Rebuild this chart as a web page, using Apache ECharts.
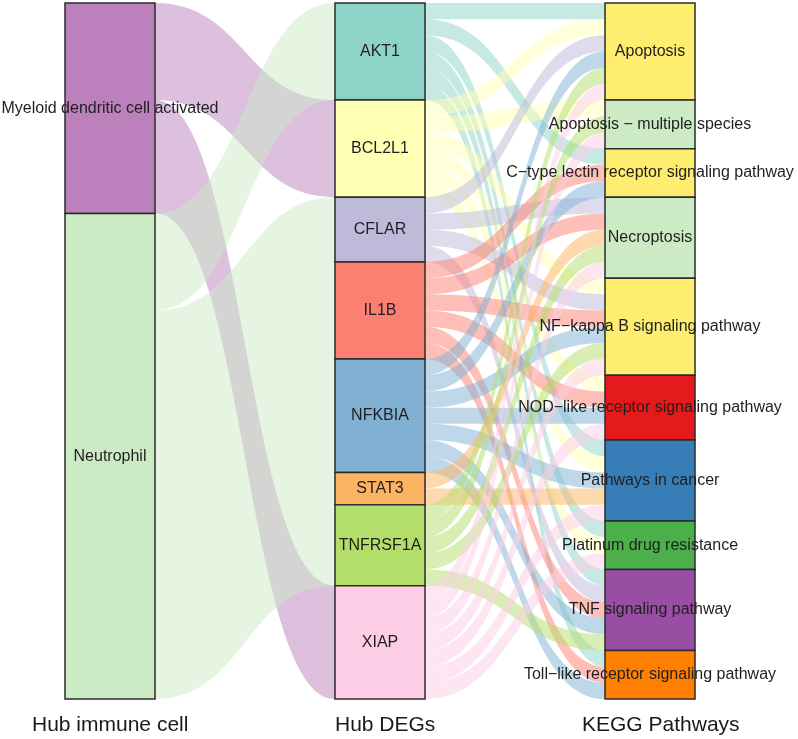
<!DOCTYPE html>
<html>
<head>
<meta charset="utf-8">
<script src="https://cdn.jsdelivr.net/npm/echarts@6/dist/echarts.min.js"></script>
<style>
  html, body { margin: 0; padding: 0; background: #ffffff; }
  #chart { width: 798px; height: 739px; }
</style>
</head>
<body>
<div id="chart"></div>
<script>
// ---- data ----
const axisTitles = ['Hub immune cell', 'Hub DEGs', 'KEGG Pathways'];

const cells = ['Myeloid dendritic cell activated', 'Neutrophil'];
const cellColors = ['#bc80bd', '#ccebc5'];

const genes = ['AKT1', 'BCL2L1', 'CFLAR', 'IL1B', 'NFKBIA', 'STAT3', 'TNFRSF1A', 'XIAP'];
const geneColors = ['#8dd3c7', '#ffffb3', '#bebada', '#fb8072', '#80b1d3', '#fdb462', '#b3de69', '#fccde5'];

const pathways = [
  'Apoptosis',
  'Apoptosis \u2212 multiple species',
  'C\u2212type lectin receptor signaling pathway',
  'Necroptosis',
  'NF\u2212kappa B signaling pathway',
  'NOD\u2212like receptor signaling pathway',
  'Pathways in cancer',
  'Platinum drug resistance',
  'TNF signaling pathway',
  'Toll\u2212like receptor signaling pathway'
];
const pathwayColors = ['#ffed6f', '#ccebc5', '#ffed6f', '#ccebc5', '#ffed6f', '#e41a1c', '#377eb8', '#4daf4a', '#984ea3', '#ff7f00'];

// immune cell -> gene (number of alluvia)
const cellGeneSource = ['Myeloid dendritic cell activated', 'Myeloid dendritic cell activated',
  'Neutrophil', 'Neutrophil', 'Neutrophil', 'Neutrophil', 'Neutrophil', 'Neutrophil'];
const cellGeneTarget = ['BCL2L1', 'XIAP', 'AKT1', 'CFLAR', 'IL1B', 'NFKBIA', 'STAT3', 'TNFRSF1A'];
const cellGeneValue = [6, 7, 6, 4, 6, 7, 2, 5];

// gene -> pathways (one alluvium each)
const genePathways = {
  AKT1: [0, 2, 6, 7, 8, 9],
  BCL2L1: [0, 1, 4, 5, 6, 7],
  CFLAR: [0, 3, 4, 8],
  IL1B: [2, 3, 4, 5, 8, 9],
  NFKBIA: [0, 2, 4, 5, 6, 8, 9],
  STAT3: [3, 6],
  TNFRSF1A: [0, 1, 3, 4, 8],
  XIAP: [0, 1, 3, 4, 5, 6, 7]
};

// ---- build ----
const nodes = [];
cells.forEach((n, i) => nodes.push({ name: n, itemStyle: { color: cellColors[i] } }));
genes.forEach((n, i) => nodes.push({ name: n, itemStyle: { color: geneColors[i] } }));
pathways.forEach((n, i) => nodes.push({ name: n, itemStyle: { color: pathwayColors[i] } }));

const links = [];
cellGeneSource.forEach((s, i) => links.push({ source: s, target: cellGeneTarget[i], value: cellGeneValue[i] }));
genes.forEach(g => {
  genePathways[g].forEach(pi => links.push({ source: g, target: pathways[pi], value: 1 }));
});

const chart = echarts.init(document.getElementById('chart'), null, { renderer: 'canvas' });
const FONT = '"Liberation Sans", Arial, Helvetica, sans-serif';

chart.setOption({
  backgroundColor: '#ffffff',
  animation: false,
  graphic: [
    { type: 'text', left: 32, top: 715, style: { text: axisTitles[0], font: '21px ' + FONT, fill: '#1a1a1a' } },
    { type: 'text', left: 335, top: 715, style: { text: axisTitles[1], font: '21px ' + FONT, fill: '#1a1a1a' } },
    { type: 'text', left: 582, top: 715, style: { text: axisTitles[2], font: '21px ' + FONT, fill: '#1a1a1a' } }
  ],
  series: [{
    type: 'sankey',
    left: 65,
    top: 3,
    width: 630,
    height: 696,
    nodeWidth: 90,
    nodeGap: 0,
    layoutIterations: 0,
    nodeAlign: 'justify',
    draggable: false,
    emphasis: { disabled: true },
    label: {
      show: true,
      position: 'inside',
      fontSize: 16,
      fontFamily: FONT,
      color: '#1f1f1f'
    },
    itemStyle: { borderColor: '#2b2b2b', borderWidth: 1.5 },
    lineStyle: { color: 'source', opacity: 0.5, curveness: 0.5 },
    data: nodes,
    links: links
  }]
});
</script>
</body>
</html>
